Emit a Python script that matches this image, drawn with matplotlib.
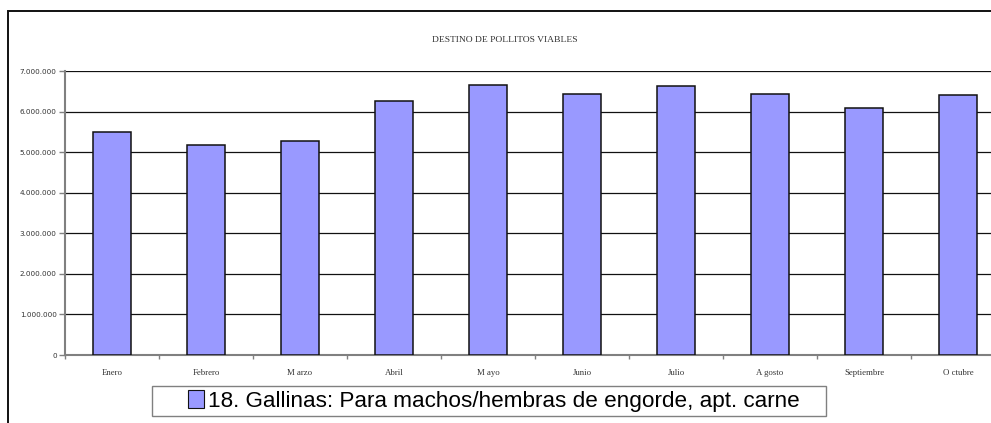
import matplotlib
matplotlib.use("Agg")
import matplotlib.pyplot as plt
from matplotlib.patches import Rectangle, Patch
from matplotlib.ticker import FuncFormatter, FixedLocator

months = ["Enero", "Febrero", "M arzo", "Abril", "M ayo", "Junio", "Julio",
          "A gosto", "Septiembre", "O ctubre"]
values = [5490000, 5170000, 5280000, 6250000, 6650000, 6430000, 6620000,
          6440000, 6100000, 6420000]
series_name = "18. Gallinas: Para machos/hembras de engorde, apt. carne"
title = "DESTINO DE POLLITOS VIABLES"

W, H = 991, 423
fig = plt.figure(figsize=(W / 100, H / 100), dpi=100)
fig.patch.set_facecolor("white")

# outer chart border (extends beyond the crop on the right and bottom)
fig.patches.append(Rectangle((8 / W, -0.1), 1.2, 1 - 11 / H + 0.1,
                             transform=fig.transFigure, fill=False,
                             edgecolor="#111111", linewidth=1.4, clip_on=False))

ax = fig.add_axes([65 / W, 1 - 355 / H, 940 / W, 284 / H])
x = list(range(len(months)))
ax.bar(x, values, width=0.41, color="#9999FF", edgecolor="#111111",
       linewidth=1.1, zorder=3)
ax.set_xlim(-0.5, len(months) - 0.5)
ax.set_ylim(0, 7000000)

yt = list(range(0, 7000001, 1000000))
ax.yaxis.set_major_locator(FixedLocator(yt))
ax.yaxis.set_major_formatter(FuncFormatter(lambda v, p: f"{int(v):,}".replace(",", ".")))
for v in yt[1:]:
    ax.axhline(v, color="#111111", linewidth=0.9, zorder=1)

ax.set_xticks(x)
ax.set_xticklabels(months, family="Liberation Serif", fontsize=6.3, color="#333333")
ax.set_xticks([i - 0.5 for i in range(len(months) + 1)], minor=True)
ax.tick_params(axis="x", which="major", length=0, pad=10)
ax.tick_params(axis="x", which="minor", length=3, width=1, color="#808080", direction="out")
ax.tick_params(axis="y", length=4, width=1, color="#808080", direction="out",
               labelsize=5.2, labelcolor="#333333", pad=2)
for lab in ax.get_yticklabels():
    lab.set_family("DejaVu Sans")

for s in ["top", "right"]:
    ax.spines[s].set_visible(False)
for s in ["left", "bottom"]:
    ax.spines[s].set_color("#808080")
    ax.spines[s].set_linewidth(1.5)

fig.text(505 / W, 1 - 40 / H, title, ha="center", va="center",
         family="Liberation Serif", fontsize=6.8, color="#333333")

# legend frame
fig.patches.append(Rectangle((152 / W, 1 - 416 / H), 674 / W, 30 / H,
                             transform=fig.transFigure, fill=False,
                             edgecolor="#808080", linewidth=1.0))
handle = Patch(facecolor="#9999FF", edgecolor="#111111", linewidth=0.8)
leg = fig.legend([handle], [series_name], loc="center left",
                 bbox_to_anchor=(188 / W, 1 - 401 / H),
                 prop={"family": "Liberation Sans", "size": 16.2},
                 frameon=False, borderpad=0, handlelength=0.72, handleheight=0.85,
                 handletextpad=0.15, borderaxespad=0)

fig.savefig("out.png", dpi=100, facecolor="white")
